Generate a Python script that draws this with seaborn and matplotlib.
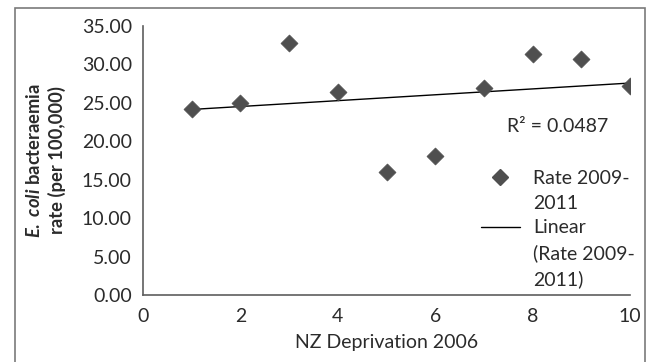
import matplotlib
matplotlib.use("Agg")
import matplotlib.pyplot as plt
from matplotlib.lines import Line2D
from matplotlib.patches import Rectangle
import seaborn as sns
import pandas as pd

# values
deprivation = [1, 2, 3, 4, 5, 6, 7, 8, 9, 10]
rate_2009_2011 = [24.2, 25.0, 32.8, 26.4, 16.0, 18.1, 26.9, 31.3, 30.7, 27.2]
y_ticks = [0, 5, 10, 15, 20, 25, 30, 35]
x_ticks = [0, 2, 4, 6, 8, 10]
r2_text = "R² = 0.0487"

df = pd.DataFrame({"dep": deprivation, "rate": rate_2009_2011})

sns.set_style("white")
plt.rcParams["font.family"] = ["Lato", "DejaVu Sans"]
plt.rcParams["mathtext.fontset"] = "custom"
plt.rcParams["mathtext.it"] = "Lato:italic:bold"
plt.rcParams["mathtext.rm"] = "Lato:bold"

FS = 14
txt = "#2b2b2b"
spine = "#5e5e5e"

fig = plt.figure(figsize=(6.52, 3.62), dpi=100)
fig.patches.append(Rectangle((15 / 652, -0.05), 630 / 652, 1 - 8 / 362 + 0.05,
                             transform=fig.transFigure, fill=False,
                             edgecolor="#7a7a7a", linewidth=1.2))
ax = fig.add_axes([143 / 652, 1 - 295 / 362, (630 - 143) / 652, (295 - 26) / 362])

sns.regplot(data=df, x="dep", y="rate", ax=ax, scatter=False, ci=None,
            truncate=True, line_kws={"color": "black", "linewidth": 1.0})
sns.scatterplot(data=df, x="dep", y="rate", ax=ax, marker="D", s=75,
                color="#4f4f4f", edgecolor="#4f4f4f", linewidth=0.5, zorder=3)

ax.set_xlim(0, 10)
ax.set_ylim(0, 35)
ax.set_xticks(x_ticks)
ax.set_yticks(y_ticks)
ax.set_yticklabels([f"{v:.2f}" for v in y_ticks])
ax.tick_params(axis="both", direction="out", length=4, width=1, color=spine,
               labelsize=FS, labelcolor=txt)
ax.tick_params(axis="y", pad=4)
ax.tick_params(axis="x", pad=5)
for s in ["top", "right"]:
    ax.spines[s].set_visible(False)
for s in ["left", "bottom"]:
    ax.spines[s].set_color(spine)
    ax.spines[s].set_linewidth(1.2)

ax.set_xlabel("NZ Deprivation 2006", fontsize=FS, color=txt, labelpad=7)
ax.set_ylabel("$\\mathit{E.\\ coli}$ bacteraemia\nrate (per 100,000)",
              fontsize=13.2, color=txt, fontweight="bold", labelpad=11,
              linespacing=1.35)

ax.text(0.747, 0.625, r2_text, transform=ax.transAxes, fontsize=FS,
        color=txt, ha="left", va="center")

blank = Line2D([], [], linestyle="none", marker=None)
handles = [Line2D([], [], marker="D", linestyle="none", color="#4f4f4f",
                  markersize=8),
           blank,
           Line2D([], [], color="black", linewidth=1.0),
           blank, blank]
labels = ["Rate 2009-", "2011", "Linear", "(Rate 2009-", "2011)"]
leg = ax.legend(handles, labels, loc="upper left",
                bbox_to_anchor=(0.694, 0.465), frameon=False, fontsize=FS,
                handlelength=2.0, handletextpad=0.7, labelspacing=0.4,
                borderaxespad=0, borderpad=0)
for t in leg.get_texts():
    t.set_color(txt)

fig.savefig("out.png", dpi=100)
